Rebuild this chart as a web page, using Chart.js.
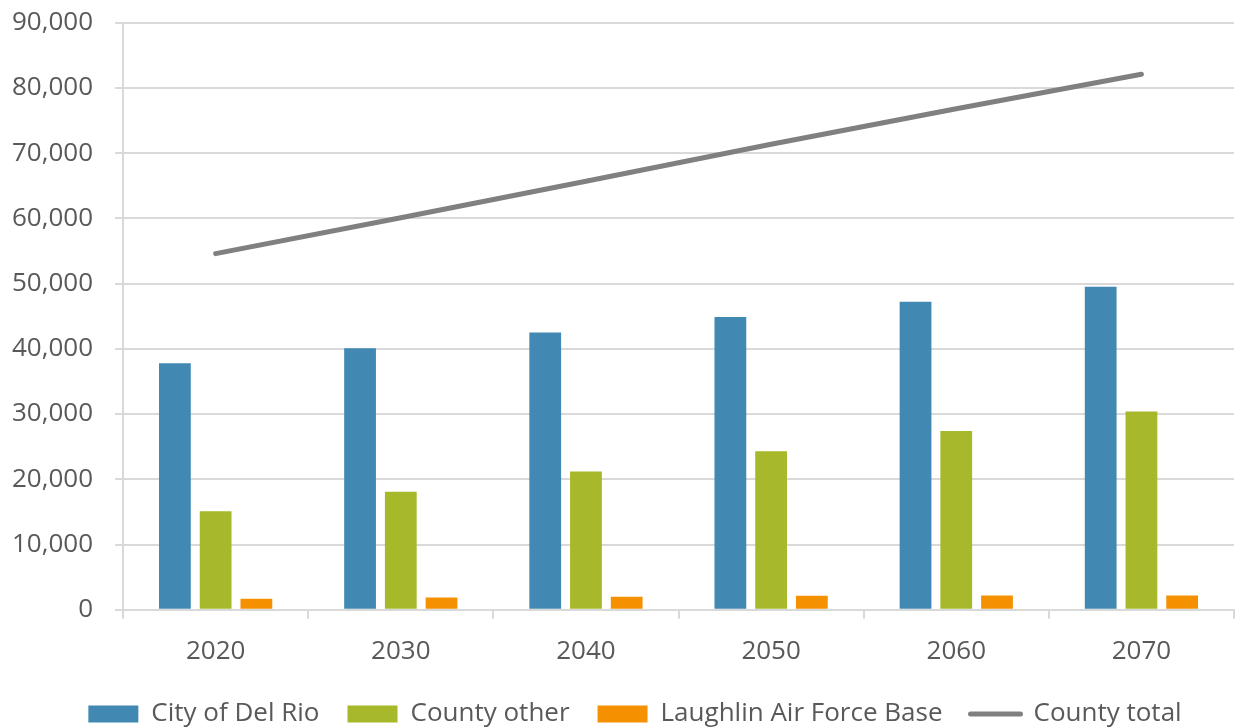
<!DOCTYPE html>
<html>
<head>
<meta charset="utf-8">
<script src="https://cdn.jsdelivr.net/npm/chart.js@4"></script>
<style>
  html, body { margin: 0; padding: 0; background: #fff; }
  #wrap { width: 1237px; height: 727px; }
</style>
</head>
<body>
<div id="wrap"><canvas id="chart" width="1237" height="727"></canvas></div>
<script>
// ── Data ─────────────────────────────────────────────────────
var YEARS        = ['2020', '2030', '2040', '2050', '2060', '2070'];
var CITY_DEL_RIO = [37800, 40100, 42500, 44900, 47200, 49500];
var COUNTY_OTHER = [15100, 18100, 21200, 24300, 27400, 30400];
var LAUGHLIN_AFB = [1700, 1900, 2000, 2150, 2200, 2200];
var COUNTY_TOTAL = [54600, 60100, 65700, 71350, 76800, 82100];
var Y_MAX  = 90000;
var Y_STEP = 10000;

var TEXT = '#595959';
var GRID = '#d9d9d9';

Chart.defaults.font.family = '"Open Sans", "Noto Sans", sans-serif';
Chart.defaults.font.size = 26;
Chart.defaults.color = TEXT;

function barSet(label, data, color) {
  return {
    type: 'bar', label: label, data: data,
    backgroundColor: color, borderWidth: 0,
    categoryPercentage: 0.66, barPercentage: 0.78, order: 2
  };
}

// the original legend sits a little right of centre
var legendShift = {
  id: 'legendShift',
  afterLayout: function (chart) {
    if (!chart.legend) return;
    chart.legend.left += 23;
    chart.legend.right += 23;
  }
};

new Chart(document.getElementById('chart').getContext('2d'), {
  data: {
    labels: YEARS,
    datasets: [
      barSet('City of Del Rio', CITY_DEL_RIO, '#4189b3'),
      barSet('County other', COUNTY_OTHER, '#a7b82a'),
      barSet('Laughlin Air Force Base', LAUGHLIN_AFB, '#f59100'),
      {
        type: 'line', label: 'County total', data: COUNTY_TOTAL,
        borderColor: '#808080', backgroundColor: '#808080',
        borderWidth: 5, borderCapStyle: 'round', pointRadius: 0,
        tension: 0, fill: false, order: 1
      }
    ]
  },
  plugins: [legendShift],
  options: {
    responsive: false,
    animation: false,
    layout: { padding: { top: 0, right: 3, left: -10, bottom: -10 } },
    plugins: {
      tooltip: { enabled: false },
      legend: {
        position: 'bottom',
        labels: {
          usePointStyle: true,
          pointStyleWidth: 50,
          boxWidth: 50,
          boxHeight: 17,
          padding: 28,
          color: TEXT,
          generateLabels: function (chart) {
            return chart.data.datasets.map(function (ds, i) {
              var isLine = ds.type === 'line';
              return {
                text: ds.label,
                fillStyle: ds.backgroundColor,
                strokeStyle: ds.borderColor || ds.backgroundColor,
                lineWidth: isLine ? 5 : 0,
                lineCap: 'round',
                pointStyle: isLine ? 'line' : 'rect',
                fontColor: TEXT,
                datasetIndex: i,
                hidden: false
              };
            });
          }
        }
      }
    },
    scales: {
      x: {
        offset: true,
        grid: { offset: true, drawOnChartArea: false, color: GRID, lineWidth: 2, tickLength: 9 },
        border: { color: GRID, width: 2 },
        ticks: { padding: 17 },
        afterFit: function (scale) { scale.height -= 11; }
      },
      y: {
        min: 0, max: Y_MAX,
        grid: { color: GRID, lineWidth: 2, tickLength: 8 },
        border: { color: GRID, width: 2 },
        ticks: {
          stepSize: Y_STEP,
          padding: 22,
          font: { lineHeight: 0.05 },   // keeps the top gridline near the canvas edge
          callback: function (v) { return v.toLocaleString('en-US'); }
        }
      }
    }
  }
});
</script>
</body>
</html>
